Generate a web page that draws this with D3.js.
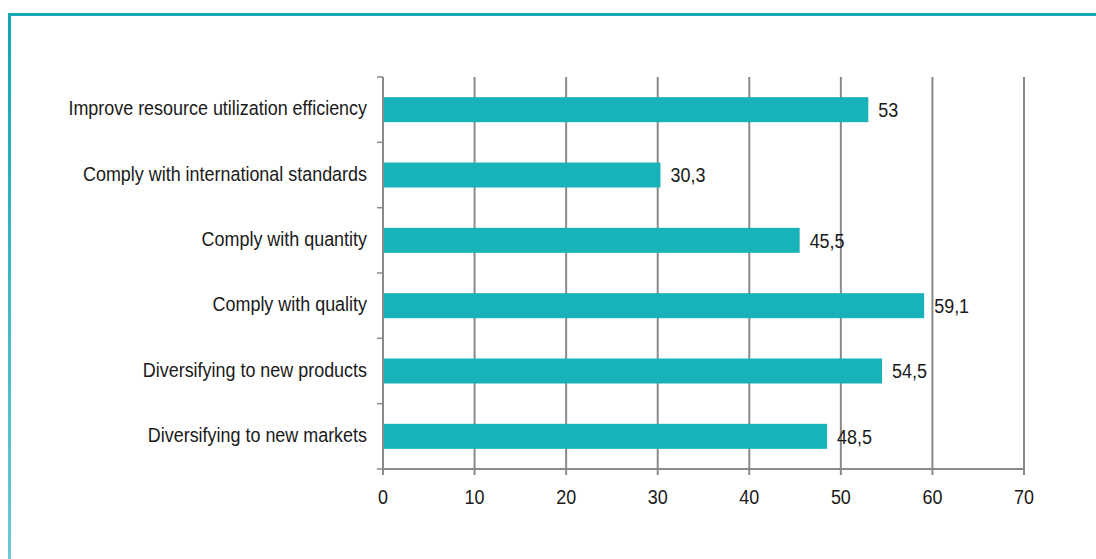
<!DOCTYPE html>
<html>
<head>
<meta charset="utf-8">
<script src="https://cdn.jsdelivr.net/npm/d3@7"></script>
<style>
  html, body { margin: 0; padding: 0; background: #fff; }
  svg { display: block; }
  text { font-family: "Liberation Sans", Arial, sans-serif; fill: #1a1a1a; }
</style>
</head>
<body>
<svg id="chart" width="1096" height="559"></svg>
<script>
// Categories, top to bottom
const categories = [
  "Improve resource utilization efficiency",
  "Comply with international standards",
  "Comply with quantity",
  "Comply with quality",
  "Diversifying to new products",
  "Diversifying to new markets"
];
// Share of respondents (%)
const values = [53, 30.3, 45.5, 59.1, 54.5, 48.5];
const valueLabels = ["53", "30,3", "45,5", "59,1", "54,5", "48,5"];
const xTicks = [0, 10, 20, 30, 40, 50, 60, 70];

const svg = d3.select("#chart");
const W = 1096, H = 559;
const FS = 20.5;      // label font size
const NARROW = 0.875; // horizontal squeeze for a condensed look

// Places a condensed text label at (px, py)
function place(sel, px, py) {
  sel.attr("transform", (d, i) => `translate(${px(d, i)},${py(d, i)}) scale(${NARROW},1)`);
}

// Frame: teal top rule and a left rule fading downwards
const defs = svg.append("defs");
const grad = defs.append("linearGradient").attr("id", "leftRule")
  .attr("x1", 0).attr("y1", 0).attr("x2", 0).attr("y2", 1);
grad.append("stop").attr("offset", "0%").attr("stop-color", "#12a5b2");
grad.append("stop").attr("offset", "100%").attr("stop-color", "#6cc9d8");
svg.append("rect").attr("x", 8).attr("y", 13).attr("width", W - 8).attr("height", 3).attr("fill", "#14a7b4");
svg.append("rect").attr("x", 8).attr("y", 13).attr("width", 3).attr("height", H - 13).attr("fill", "url(#leftRule)");

const plot = { left: 383, right: 1024, top: 77, bottom: 469 };

const x = d3.scaleLinear().domain([0, 70]).range([plot.left, plot.right]);
const yb = d3.scaleBand().domain(categories).range([plot.top, plot.bottom]);
const barH = 25;

const gridColor = "#8a8a8a";

// Vertical gridlines
svg.append("g").selectAll("line").data(xTicks.slice(1)).join("line")
  .attr("x1", d => x(d)).attr("x2", d => x(d))
  .attr("y1", plot.top).attr("y2", plot.bottom)
  .attr("stroke", gridColor).attr("stroke-width", 2);

// Bars
svg.append("g").selectAll("rect").data(values).join("rect")
  .attr("x", x(0))
  .attr("y", (d, i) => yb(categories[i]) + yb.bandwidth() / 2 - barH / 2)
  .attr("width", d => x(d) - x(0))
  .attr("height", barH)
  .attr("fill", "#17b3b9");

// Y axis (category boundaries as ticks)
const yAxis = svg.append("g");
yAxis.append("line").attr("x1", x(0)).attr("x2", x(0)).attr("y1", plot.top).attr("y2", plot.bottom + 5)
  .attr("stroke", gridColor).attr("stroke-width", 2);
const boundaries = categories.map(c => yb(c)).concat([plot.bottom]);
yAxis.selectAll("line.tick").data(boundaries).join("line").attr("class", "tick")
  .attr("x1", x(0) - 6).attr("x2", x(0)).attr("y1", d => d).attr("y2", d => d)
  .attr("stroke", gridColor).attr("stroke-width", 1.5);
yAxis.selectAll("text").data(categories).join("text")
  .attr("dy", "0.28em")
  .attr("text-anchor", "end")
  .attr("font-size", FS)
  .text(d => d)
  .call(place, () => 367, d => yb(d) + yb.bandwidth() / 2);

// X axis
const xAxis = svg.append("g");
xAxis.append("line").attr("x1", x(0)).attr("x2", x(70)).attr("y1", plot.bottom).attr("y2", plot.bottom)
  .attr("stroke", gridColor).attr("stroke-width", 2);
xAxis.selectAll("line.tick").data(xTicks).join("line").attr("class", "tick")
  .attr("x1", d => x(d)).attr("x2", d => x(d)).attr("y1", plot.bottom).attr("y2", plot.bottom + 6)
  .attr("stroke", gridColor).attr("stroke-width", 2);
xAxis.selectAll("text").data(xTicks).join("text")
  .attr("text-anchor", "middle")
  .attr("font-size", FS)
  .text(d => d)
  .call(place, d => x(d), () => 504);

// Value labels
svg.append("g").selectAll("text").data(values).join("text")
  .attr("dy", "0.35em")
  .attr("font-size", FS)
  .text((d, i) => valueLabels[i])
  .call(place, d => x(d) + 10, (d, i) => yb(categories[i]) + yb.bandwidth() / 2);
</script>
</body>
</html>
